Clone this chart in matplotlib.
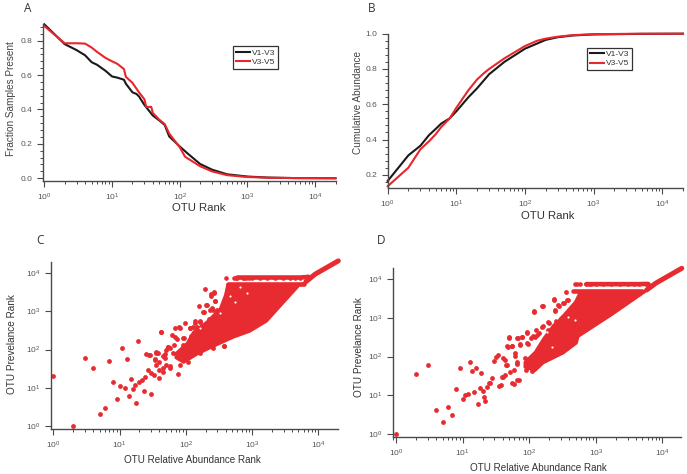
import matplotlib
matplotlib.use('Agg')
import matplotlib.pyplot as plt
from matplotlib.ticker import LogLocator, MultipleLocator, NullLocator, NullFormatter

plt.rcParams['font.family'] = ['Liberation Sans', 'DejaVu Sans']
plt.rcParams['mathtext.default'] = 'regular'

W, H = 687, 474
RED = '#e8262c'
DOT_RED = '#e82b30'
DARK = '#4a4a4a'

# A: fraction of samples present
a_rank_v13 = [1, 2, 3, 4, 5, 6, 8, 10, 12, 15, 16, 20, 23, 25, 30, 40, 50, 60, 70, 100, 130, 200, 300, 500, 1000, 2000, 5000, 20000]
a_frac_v13 = [.895, .78, .745, .715, .675, .66, .625, .592, .585, .573, .55, .50, .49, .476, .427, .365, .336, .31, .243, .185, .145, .083, .05, .023, .01, .004, .001, 0]
a_rank_v35 = [1, 2, 3, 4, 5, 6, 8, 10, 12, 15, 16, 20, 25, 30, 32, 38, 40, 50, 60, 70, 100, 120, 200, 300, 500, 1000, 2000, 5000, 20000]
a_frac_v35 = [.885, .785, .785, .783, .76, .735, .70, .68, .665, .635, .59, .555, .50, .46, .415, .415, .38, .34, .315, .26, .18, .125, .07, .04, .018, .007, .003, .001, 0]

# B: cumulative abundance
b_rank_v13 = [1, 2, 3, 4, 5, 6, 8, 10, 15, 20, 30, 50, 100, 200, 300, 500, 1000, 5000, 20000]
b_abun_v13 = [.165, .31, .365, .425, .46, .49, .52, .56, .64, .69, .77, .84, .915, .965, .98, .99, .996, .999, 1]
b_rank_v35 = [1, 2, 3, 4, 5, 6, 8, 10, 15, 20, 25, 30, 50, 100, 150, 200, 300, 500, 1000, 5000, 20000]
b_abun_v35 = [.135, .24, .345, .39, .43, .47, .52, .58, .68, .74, .775, .80, .86, .93, .96, .972, .983, .992, .997, 1, 1]

# C: separate OTUs
c_abund = [1, 2, 3, 4, 5, 6, 7, 8, 9, 10, 11, 12, 13, 14, 15, 16, 17, 18, 19, 20, 22, 23, 24, 25, 27, 28, 30, 30, 33, 34,
           36, 38, 40, 40, 42, 45, 46, 46, 51, 51, 54, 58, 58, 61, 65, 69, 69, 73, 77, 81, 82, 92, 97, 109, 116, 130, 137, 163,
           163, 195, 237, 270, 158, 205, 275, 190, 232, 292, 260, 377, 48, 36, 40, 58, 120, 150, 175, 210, 240, 140, 185, 225,
           267, 237, 273, 211, 246, 42, 80, 138, 164, 94, 73, 53, 36, 29, 34, 49, 377, 116, 184, 260, 66, 146, 92]
c_prev = [20, 1, 60, 32, 2, 3, 51, 14, 5, 11, 108, 10, 55, 6, 17, 9, 12, 4, 170, 14, 16, 8, 19, 78, 30, 72, 7, 24, 22, 55,
          82, 80, 18, 48, 280, 66, 26, 32, 98, 40, 120, 36, 108, 242, 80, 219, 363, 72, 23, 40, 377, 198, 510, 48, 363, 400, 510, 540,
          80, 3800, 2900, 3170, 1390, 1480, 1880, 950, 1100, 1100, 108, 127, 59, 40, 30, 32, 230, 300, 420, 310, 650, 130, 170, 620,
          2970, 2580, 1910, 1468, 1253, 283, 383, 561, 561, 205, 189, 119, 85, 72, 53, 75, 124, 375, 984, 1086, 132, 398, 132]
c_row_top = [404, 530, 570, 600, 730, 760, 800, 900, 1000, 1300, 1700, 2200, 2900, 3700, 4500, 5200, 6600, 7000]
c_row_top_prev = [7700, 7700, 7700, 7700, 7700, 7700, 7700, 7700, 7700, 7700, 7700, 7700, 7700, 7700, 7700, 7700, 7900, 8100]
c_row_low = [430, 6000]
c_row_low_prev = [5100, 5100]
c_tail_x = [6500, 9000, 20000]
c_tail_y = [6000, 9500, 21000]
c_cloud_x = [70, 103, 130, 207, 328, 391, 424, 5800, 7000, 5290, 1660, 930, 521, 232, 150, 93, 70]
c_cloud_y = [80, 146, 294, 537, 1200, 2690, 5100, 5100, 6300, 5000, 542, 295, 205, 108, 75, 45, 60]
c_hole_x = [164, 328, 553, 830, 465, 658]
c_hole_y = [361, 889, 1800, 2970, 2580, 4436]

# D: separate OTUs
d_abund = [1, 2, 3, 4, 5, 6, 7, 8, 9, 10, 11, 12, 13, 14, 15, 16, 17, 18, 19, 20, 21, 22, 23, 25, 26, 28, 30, 32, 34, 35,
           38, 39, 41, 43, 45, 48, 50, 56, 58, 67, 69, 73, 78, 92, 95, 117, 160, 237, 275, 328, 245, 370, 195, 115, 140, 105, 120,
           85, 62, 52, 66, 90, 110, 118, 145, 180, 220, 300, 160, 190, 250,
           357, 236, 158, 118, 387, 274, 326, 244, 194, 154, 126, 129, 92, 77, 66, 50, 47, 56, 73, 61, 92, 43, 46, 65, 58, 66, 56, 41]
d_prev = [1, 36, 61, 4, 2, 5, 3, 14, 51, 8, 10, 11, 70, 41, 12, 51, 6, 15, 38, 13, 9, 7, 16, 21, 20, 27, 78, 99, 109, 17,
          18, 30, 90, 33, 60, 180, 310, 190, 19, 295, 25, 200, 325, 400, 205, 1450, 2000, 2900, 2080, 2390, 1520, 2900, 730, 340, 400, 300, 330,
          90, 105, 40, 70, 45, 43, 75, 90, 100, 110, 130, 600, 480, 850,
          4590, 3030, 2030, 1510, 2910, 2160, 2380, 1600, 795, 593, 486, 361, 423, 326, 295, 314, 187, 191, 206, 121, 219, 81, 60, 63, 45, 25, 20, 30]
d_row_top = [490, 530, 580, 720, 780, 850, 1000, 1300, 1700, 2300, 3000, 3800, 4400, 5700, 6100]
d_row_top_prev = [7500, 7500, 7500, 7500, 7500, 7500, 7500, 7500, 7500, 7500, 7500, 7500, 7500, 7600, 7600]
d_row_low = [460, 5000]
d_row_low_prev = [4850, 4850]
d_tail_x = [5800, 8000, 19500]
d_tail_y = [5300, 8000, 19300]
d_cloud_x = [85, 122, 163, 230, 326, 488, 579, 5000, 5800, 5500, 1740, 550, 516, 326, 163, 122, 85]
d_cloud_y = [72, 133, 295, 655, 1190, 2630, 4800, 4800, 5300, 4700, 1190, 326, 219, 121, 67, 42, 52]
d_hole_x = [183, 258, 387, 488, 217]
d_hole_y = [440, 975, 1076, 883, 180]


def make_axes(fig, left, top, right, bottom):
    return fig.add_axes([left / W, 1 - bottom / H, (right - left) / W, (bottom - top) / H])


def style_axes(ax):
    for side in ['top', 'right']:
        ax.spines[side].set_visible(False)
    for side in ['left', 'bottom']:
        ax.spines[side].set_color(DARK)
        ax.spines[side].set_linewidth(1.0)
    ax.set_xscale('log')
    ax.xaxis.set_major_locator(LogLocator(base=10, numticks=8))
    ax.xaxis.set_minor_locator(LogLocator(base=10, subs=range(2, 10), numticks=8))
    ax.xaxis.set_minor_formatter(NullFormatter())
    ax.tick_params(axis='both', which='major', direction='out', length=4.5, width=0.8,
                   color=DARK, labelcolor='#555555', labelsize=6, pad=3)
    ax.tick_params(axis='both', which='minor', direction='out', length=2.5, width=0.7, color=DARK)


def curve_panel(ax, x1, y1, x2, y2, ylabel, legend_box, xpad, ypad):
    style_axes(ax)
    ax.plot(x1, y1, color='#1a1a1a', lw=1.5, label='V1-V3', clip_on=False)
    ax.plot(x2, y2, color=RED, lw=1.5, label='V3-V5', clip_on=False)
    ax.yaxis.set_major_locator(MultipleLocator(0.2))
    ax.yaxis.set_minor_locator(MultipleLocator(0.04))
    ax.set_xlabel('OTU Rank', fontsize=8.2, color='#333333', labelpad=xpad)
    ax.set_ylabel(ylabel, fontsize=7.2, color='#444444', labelpad=ypad)
    leg = ax.legend(loc='upper left', bbox_to_anchor=legend_box, fontsize=6, frameon=True, fancybox=False,
                    edgecolor='#333333', framealpha=1, borderpad=0.35, labelspacing=0.15,
                    handlelength=1.7, handletextpad=0.2, borderaxespad=0, labelcolor='#333333')
    leg.get_frame().set_linewidth(0.9)


def scatter_panel(ax, xs, ys, row_x, row_y, low_x, low_y, tail_x, tail_y, cloud_x, cloud_y, hole_x, hole_y, xpad, ypad):
    style_axes(ax)
    ax.set_yscale('log')
    ax.yaxis.set_major_locator(LogLocator(base=10, numticks=8))
    ax.yaxis.set_minor_locator(NullLocator())
    ax.fill(cloud_x, cloud_y, color=DOT_RED, lw=1.5, joinstyle='round')
    ax.plot(low_x, low_y, color=DOT_RED, lw=3.3, solid_capstyle='round')
    ax.plot(tail_x, tail_y, color=DOT_RED, lw=3.6, solid_capstyle='round', clip_on=False)
    ax.scatter(row_x, row_y, s=11, color=DOT_RED, lw=0, clip_on=False)
    ax.plot(row_x[3:], row_y[3:], color=DOT_RED, lw=3.3, solid_capstyle='round')
    ax.scatter(xs, ys, s=12, color=DOT_RED, lw=0, clip_on=False)
    ax.scatter(hole_x, hole_y, s=2.5, color='white', lw=0, zorder=3)
    ax.set_xlabel('OTU Relative Abundance Rank', fontsize=7.1, color='#333333', labelpad=xpad)
    ax.set_ylabel('OTU Prevelance Rank', fontsize=7.2, color='#333333', labelpad=ypad)


fig = plt.figure(figsize=(W / 100, H / 100), dpi=100)

ax_a = make_axes(fig, 42.5, 24, 335.5, 181)
curve_panel(ax_a, a_rank_v13, a_frac_v13, a_rank_v35, a_frac_v35, 'Fraction Samples Present', (0.65, 0.86), 0, 3)
ax_a.set_xlim(0.94, 20000)
ax_a.set_ylim(-0.016, 0.897)
ax_a.xaxis.label.set_x(0.534)
ax_a.yaxis.label.set_y(0.525)

ax_b = make_axes(fig, 387.7, 33.7, 683, 188)
curve_panel(ax_b, b_rank_v13, b_abun_v13, b_rank_v35, b_abun_v35, 'Cumulative Abundance', (0.675, 0.91), 1, 2)
ax_b.set_xlim(1, 20000)
ax_b.set_ylim(0.125, 1.0)
ax_b.xaxis.label.set_x(0.543)
ax_b.yaxis.label.set_y(0.551)

ax_c = make_axes(fig, 50.7, 261.7, 338, 429)
scatter_panel(ax_c, c_abund, c_prev, c_row_top, c_row_top_prev, c_row_low, c_row_low_prev,
              c_tail_x, c_tail_y, c_cloud_x, c_cloud_y, c_hole_x, c_hole_y, 3, 6)
ax_c.set_xlim(0.914, 19800)
ax_c.set_ylim(0.83, 20000)
ax_c.xaxis.label.set_x(0.495)
ax_c.yaxis.label.set_y(0.508)

ax_d = make_axes(fig, 392.7, 268.3, 681, 437.3)
scatter_panel(ax_d, d_abund, d_prev, d_row_top, d_row_top_prev, d_row_low, d_row_low_prev,
              d_tail_x, d_tail_y, d_cloud_x, d_cloud_y, d_hole_x, d_hole_y, 3, 3)
ax_d.set_xlim(0.89, 19000)
ax_d.set_ylim(0.807, 19300)
ax_d.xaxis.label.set_x(0.507)
ax_d.yaxis.label.set_y(0.534)

for letter, px, py in [('A', 24, 8), ('B', 368, 8), ('C', 36, 241), ('D', 377, 241)]:
    fig.text(px / W, 1 - py / H, letter, fontsize=8.5, color='#333333', family=['Open Sans', 'DejaVu Sans'], va='center')

fig.savefig('out.png', dpi=100)
